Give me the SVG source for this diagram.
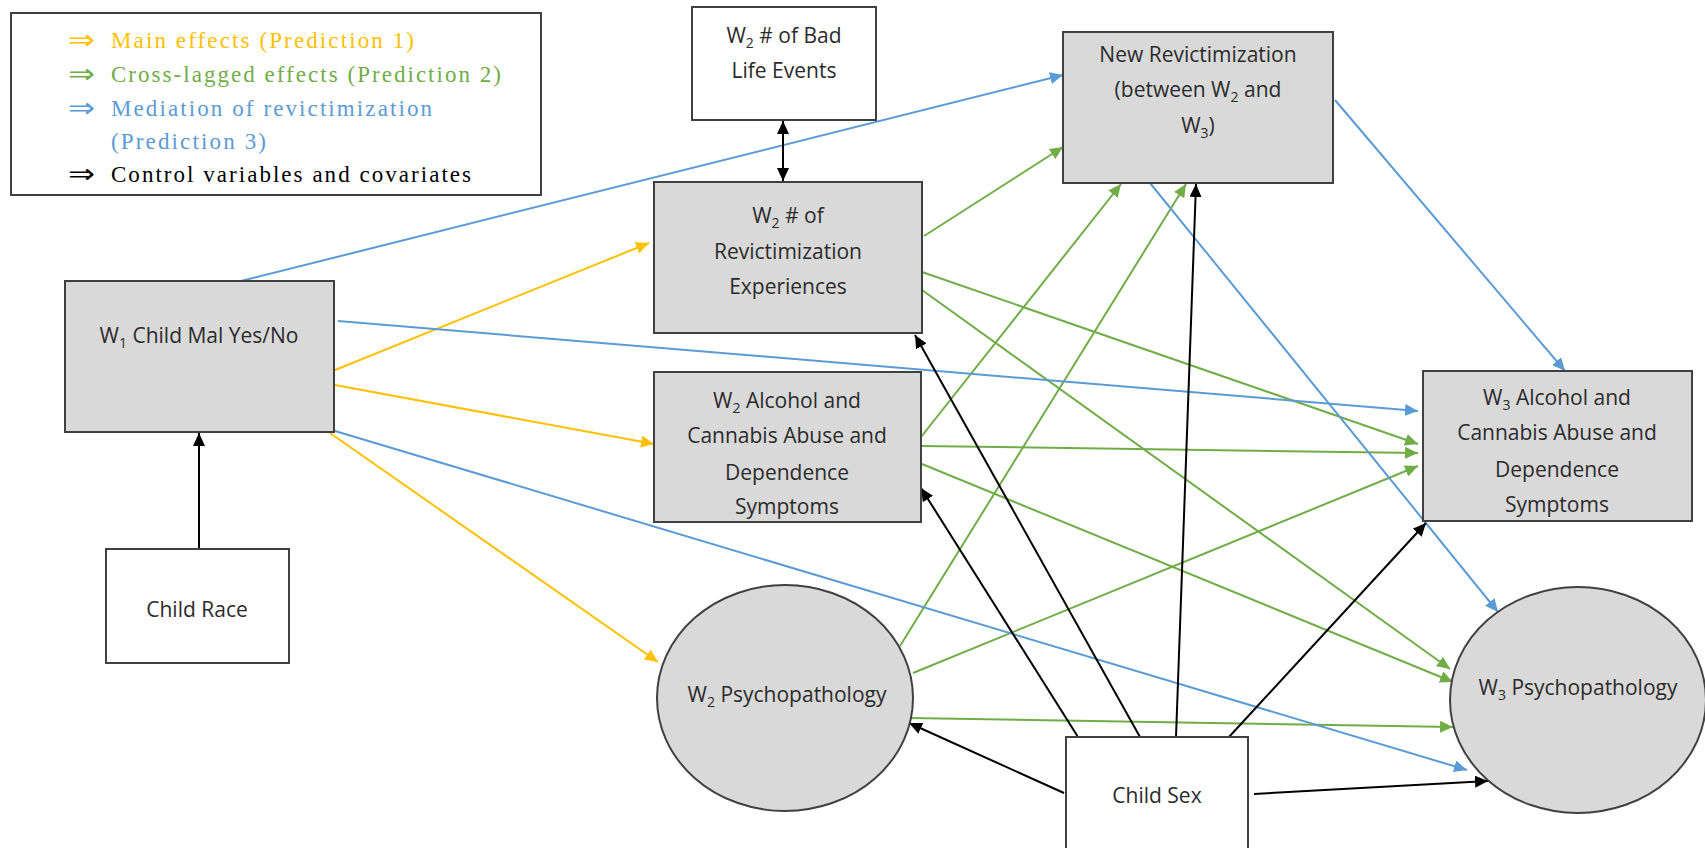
<svg xmlns="http://www.w3.org/2000/svg" width="1705" height="848" viewBox="0 0 1705 848">
  <style>
    .box { fill: #D9D9D9; stroke: #404040; stroke-width: 2; }
    .plain { fill: #FFFFFF; stroke: #404040; stroke-width: 2; }
    .lbl { font-family: "Open Sans", "Liberation Sans", sans-serif; font-size: 21px; fill: #2b2b2b; text-anchor: middle; }
    .sub { font-size: 14px; }
    .leg { font-family: "Liberation Serif", "DejaVu Serif", serif; font-size: 23px; }
    .arr { font-family: "DejaVu Sans", "Liberation Serif", serif; font-size: 27px; }
    .yel { stroke: #FFC000; fill: none; stroke-width: 2; marker-end: url(#mY); }
    .grn { stroke: #70AD47; fill: none; stroke-width: 2; marker-end: url(#mG); }
    .blu { stroke: #5B9BD5; fill: none; stroke-width: 2; marker-end: url(#mB); }
    .blk { stroke: #000000; fill: none; stroke-width: 2; marker-end: url(#mK); }
  </style>
  <defs>
    <marker id="mY" markerUnits="userSpaceOnUse" markerWidth="14" markerHeight="12" refX="13" refY="6" orient="auto"><path d="M0,0 L13,6 L0,12 z" fill="#FFC000"/></marker>
    <marker id="mG" markerUnits="userSpaceOnUse" markerWidth="14" markerHeight="12" refX="13" refY="6" orient="auto"><path d="M0,0 L13,6 L0,12 z" fill="#70AD47"/></marker>
    <marker id="mB" markerUnits="userSpaceOnUse" markerWidth="14" markerHeight="12" refX="13" refY="6" orient="auto"><path d="M0,0 L13,6 L0,12 z" fill="#5B9BD5"/></marker>
    <marker id="mK" markerUnits="userSpaceOnUse" markerWidth="14" markerHeight="12" refX="13" refY="6" orient="auto"><path d="M0,0 L13,6 L0,12 z" fill="#000000"/></marker>
    <marker id="mK2" markerUnits="userSpaceOnUse" markerWidth="14" markerHeight="12" refX="13" refY="6" orient="auto-start-reverse"><path d="M0,0 L13,6 L0,12 z" fill="#000000"/></marker>
  </defs>

  <rect width="1705" height="848" fill="#FFFFFF"/>

  <!-- legend -->
  <g id="legend">
    <rect x="11" y="13" width="530" height="182" fill="#FFFFFF" stroke="#404040" stroke-width="2"/>
    <text class="arr" x="68" y="49" fill="#FFC000" textLength="27" lengthAdjust="spacingAndGlyphs">⇒</text>
    <text class="leg" x="111" y="48" fill="#FFC000" textLength="303" lengthAdjust="spacing">Main effects (Prediction 1)</text>
    <text class="arr" x="68" y="83" fill="#70AD47" textLength="27" lengthAdjust="spacingAndGlyphs">⇒</text>
    <text class="leg" x="111" y="82" fill="#70AD47" textLength="390" lengthAdjust="spacing">Cross-lagged effects (Prediction 2)</text>
    <text class="arr" x="68" y="117" fill="#5B9BD5" textLength="27" lengthAdjust="spacingAndGlyphs">⇒</text>
    <text class="leg" x="111" y="116" fill="#5B9BD5" textLength="321" lengthAdjust="spacing">Mediation of revictimization</text>
    <text class="leg" x="111" y="149" fill="#5B9BD5" textLength="155" lengthAdjust="spacing">(Prediction 3)</text>
    <text class="arr" x="68" y="183" fill="#000000" textLength="27" lengthAdjust="spacingAndGlyphs">⇒</text>
    <text class="leg" x="111" y="182" fill="#000000" textLength="360" lengthAdjust="spacing">Control variables and covariates</text>
  </g>

  <!-- connectors -->
  <g id="connectors">
    <!-- main effects -->
    <line class="yel" x1="335" y1="370" x2="649" y2="243"/>
    <line class="yel" x1="335" y1="385" x2="654" y2="444"/>
    <line class="yel" x1="330" y1="433" x2="658" y2="662"/>
    <!-- cross-lagged effects -->
    <line class="grn" x1="924" y1="236" x2="1063" y2="147"/>
    <line class="grn" x1="922" y1="272" x2="1418" y2="444"/>
    <line class="grn" x1="922" y1="290" x2="1450" y2="669"/>
    <line class="grn" x1="921" y1="437" x2="1121" y2="184"/>
    <line class="grn" x1="921" y1="446" x2="1418" y2="453"/>
    <line class="grn" x1="922" y1="464" x2="1453" y2="682"/>
    <line class="grn" x1="900" y1="646" x2="1186" y2="184"/>
    <line class="grn" x1="913" y1="673" x2="1418" y2="466"/>
    <line class="grn" x1="910" y1="718" x2="1453" y2="727"/>
    <!-- mediation of revictimization -->
    <line class="blu" x1="241" y1="281" x2="1063" y2="75"/>
    <line class="blu" x1="338" y1="321" x2="1418" y2="411"/>
    <line class="blu" x1="335" y1="431" x2="1467" y2="770"/>
    <line class="blu" x1="1335" y1="100" x2="1565" y2="371"/>
    <line class="blu" x1="1150" y1="183" x2="1498" y2="612"/>
    <!-- control variables -->
    <line class="blk" x1="199" y1="549" x2="199" y2="433"/>
    <line stroke="#000" stroke-width="2" marker-start="url(#mK2)" marker-end="url(#mK2)" x1="783" y1="121" x2="783" y2="181"/>
    <line class="blk" x1="1064" y1="793" x2="909" y2="723"/>
    <line class="blk" x1="1078" y1="737" x2="921" y2="488"/>
    <line class="blk" x1="1140" y1="737" x2="915" y2="335"/>
    <line class="blk" x1="1176" y1="737" x2="1196" y2="184"/>
    <line class="blk" x1="1229" y1="737" x2="1426" y2="523"/>
    <line class="blk" x1="1254" y1="794" x2="1488" y2="781"/>
  </g>

  <!-- nodes -->
  <g id="bad-life-events">
    <rect class="plain" x="692" y="7" width="184" height="113"/>
    <text class="lbl" x="784" y="43">W<tspan class="sub" dy="5">2</tspan><tspan dy="-5"> # of Bad</tspan></text>
    <text class="lbl" x="784" y="78">Life Events</text>
  </g>

  <g id="w2-revictimization">
    <rect class="box" x="654" y="182" width="268" height="151"/>
    <text class="lbl" x="788" y="223">W<tspan class="sub" dy="5">2</tspan><tspan dy="-5"> # of</tspan></text>
    <text class="lbl" x="788" y="259">Revictimization</text>
    <text class="lbl" x="788" y="294">Experiences</text>
  </g>

  <g id="new-revictimization">
    <rect class="box" x="1063" y="32" width="270" height="151"/>
    <text class="lbl" x="1198" y="62">New Revictimization</text>
    <text class="lbl" x="1198" y="97">(between W<tspan class="sub" dy="5">2</tspan><tspan dy="-5"> and</tspan></text>
    <text class="lbl" x="1198" y="133">W<tspan class="sub" dy="5">3</tspan><tspan dy="-5">)</tspan></text>
  </g>

  <g id="w1-child-mal">
    <rect class="box" x="65" y="281" width="269" height="151"/>
    <text class="lbl" x="199" y="343">W<tspan class="sub" dy="5">1</tspan><tspan dy="-5"> Child Mal Yes/No</tspan></text>
  </g>

  <g id="child-race">
    <rect class="plain" x="106" y="549" width="183" height="114"/>
    <text class="lbl" x="197" y="617">Child Race</text>
  </g>

  <g id="w2-alcohol">
    <rect class="box" x="654" y="372" width="267" height="150"/>
    <text class="lbl" x="787" y="408">W<tspan class="sub" dy="5">2</tspan><tspan dy="-5"> Alcohol and</tspan></text>
    <text class="lbl" x="787" y="443">Cannabis Abuse and</text>
    <text class="lbl" x="787" y="480">Dependence</text>
    <text class="lbl" x="787" y="514">Symptoms</text>
  </g>

  <g id="w2-psychopathology">
    <ellipse class="box" cx="785" cy="698" rx="128" ry="113"/>
    <text class="lbl" x="787" y="702">W<tspan class="sub" dy="5">2</tspan><tspan dy="-5"> Psychopathology</tspan></text>
  </g>

  <g id="child-sex">
    <rect class="plain" x="1066" y="737" width="182" height="120"/>
    <text class="lbl" x="1157" y="803">Child Sex</text>
  </g>

  <g id="w3-alcohol">
    <rect class="box" x="1423" y="371" width="269" height="150"/>
    <text class="lbl" x="1557" y="405">W<tspan class="sub" dy="5">3</tspan><tspan dy="-5"> Alcohol and</tspan></text>
    <text class="lbl" x="1557" y="440">Cannabis Abuse and</text>
    <text class="lbl" x="1557" y="477">Dependence</text>
    <text class="lbl" x="1557" y="512">Symptoms</text>
  </g>

  <g id="w3-psychopathology">
    <ellipse class="box" cx="1578" cy="700" rx="128" ry="113"/>
    <text class="lbl" x="1578" y="695">W<tspan class="sub" dy="5">3</tspan><tspan dy="-5"> Psychopathology</tspan></text>
  </g>
</svg>
